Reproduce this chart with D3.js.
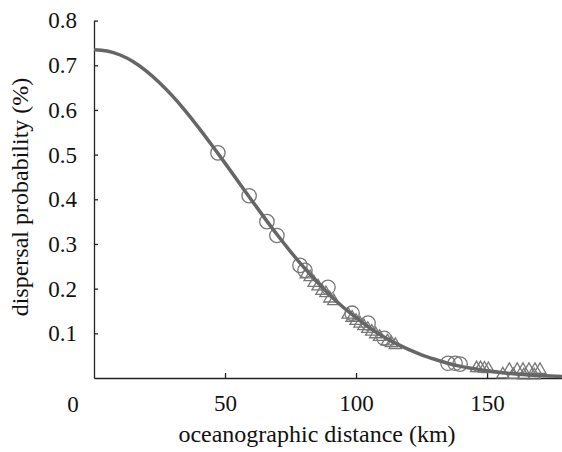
<!DOCTYPE html>
<html>
<head>
<meta charset="utf-8">
<script src="https://cdn.jsdelivr.net/npm/d3@7"></script>
<style>
  body { margin: 0; background: #fff; }
  text { font-family: "Liberation Serif", "Times New Roman", "DejaVu Serif", serif; }
</style>
</head>
<body>
<script>
var width = 562;
var height = 452;

// fitted curve
var curveX = [0, 5, 10, 15, 20, 25, 30, 35, 40, 45, 50, 55, 60, 65, 70, 75, 80, 85, 90, 95, 100,
              105, 110, 115, 120, 125, 130, 135, 140, 145, 150, 155, 160, 165, 170, 178.6];
var curveY = [0.735, 0.732, 0.723, 0.708, 0.687, 0.661, 0.631, 0.597, 0.560, 0.521, 0.481, 0.440,
              0.399, 0.359, 0.320, 0.283, 0.248, 0.216, 0.186, 0.159, 0.135, 0.113, 0.094, 0.078,
              0.064, 0.052, 0.042, 0.033, 0.026, 0.021, 0.016, 0.0125, 0.0096, 0.0073, 0.0055, 0.0034];

// circles
var circleX = [47.3, 59.2, 66.0, 69.8, 78.6, 80.5, 89.3, 98.5, 104.6, 110.7, 135.1, 137.8, 139.7];
var circleY = [0.504, 0.408, 0.350, 0.319, 0.252, 0.241, 0.203, 0.145, 0.123, 0.089, 0.033, 0.033, 0.031];

// triangles
var triX = [81, 82.5, 84, 85.5, 87, 88.5, 90, 91.5, 97, 98.5, 100, 101.5, 103, 104.5, 106, 107.5,
            109, 112, 113.5, 115, 146, 147.5, 149, 150.5, 158.5, 161.5, 163.7, 166, 168.3, 170.2,
            156, 160, 164, 168];
var triY = [0.232, 0.226, 0.213, 0.205, 0.195, 0.190, 0.178, 0.172, 0.142, 0.135, 0.128, 0.122,
            0.116, 0.110, 0.104, 0.098, 0.092, 0.082, 0.078, 0.074, 0.022, 0.022, 0.021, 0.020,
            0.018, 0.018, 0.018, 0.018, 0.018, 0.018, 0.008, 0.007, 0.006, 0.006];

var yTicks = [0.1, 0.2, 0.3, 0.4, 0.5, 0.6, 0.7, 0.8];
var xTicks = [50, 100, 150];

var svg = d3.select("body").append("svg")
    .attr("width", width)
    .attr("height", height);

var x = d3.scaleLinear().domain([0, 178.6]).range([94, 562]);
var y = d3.scaleLinear().domain([0, 0.8]).range([378, 20.6]);

var tickFs = 23;
var titleFs = 24;
var serif = "Liberation Serif, Times New Roman, DejaVu Serif, serif";

// y axis
svg.append("g")
    .attr("transform", "translate(" + x(0) + ",0)")
    .call(d3.axisLeft(y).tickValues(yTicks).tickFormat(d3.format(".1f"))
        .tickSizeInner(-4).tickSizeOuter(0).tickPadding(17))
    .call(function (g) {
        g.attr("font-family", serif);
        g.selectAll("text").attr("font-size", tickFs).attr("fill", "#111");
        g.selectAll("line, path").attr("stroke", "#222").attr("stroke-width", 1.3);
    });

// x axis
svg.append("g")
    .attr("transform", "translate(0," + y(0) + ")")
    .call(d3.axisBottom(x).tickValues(xTicks).tickFormat(d3.format("d"))
        .tickSizeInner(-5).tickSizeOuter(0).tickPadding(17))
    .call(function (g) {
        g.attr("font-family", serif);
        g.selectAll("text").attr("font-size", tickFs).attr("fill", "#111");
        g.selectAll("line, path").attr("stroke", "#222").attr("stroke-width", 1.3);
    });

// origin label
svg.append("text")
    .attr("x", 73).attr("y", 412)
    .attr("text-anchor", "middle")
    .attr("font-size", tickFs)
    .attr("fill", "#111")
    .text("0");

// markers
var markers = svg.append("g")
    .attr("fill", "none")
    .attr("stroke", "#777")
    .attr("stroke-width", 1.3);

markers.selectAll("circle")
    .data(circleX)
    .join("circle")
    .attr("cx", function (d) { return x(d); })
    .attr("cy", function (d, i) { return y(circleY[i]); })
    .attr("r", 7.2);

var tri = d3.symbol().type(d3.symbolTriangle).size(65);
markers.selectAll("path.tri")
    .data(triX)
    .join("path")
    .attr("class", "tri")
    .attr("d", tri)
    .attr("transform", function (d, i) { return "translate(" + x(d) + "," + y(triY[i]) + ")"; });

// fitted curve
var line = d3.line()
    .x(function (d) { return x(d); })
    .y(function (d, i) { return y(curveY[i]); })
    .curve(d3.curveNatural);

svg.append("path")
    .datum(curveX)
    .attr("d", line)
    .attr("fill", "none")
    .attr("stroke", "#666")
    .attr("stroke-width", 3.5);

// axis titles
svg.append("text")
    .attr("x", 317).attr("y", 442)
    .attr("text-anchor", "middle")
    .attr("font-size", titleFs)
    .attr("fill", "#111")
    .text("oceanographic distance (km)");

svg.append("text")
    .attr("transform", "translate(28,197) rotate(-90)")
    .attr("text-anchor", "middle")
    .attr("font-size", titleFs)
    .attr("fill", "#111")
    .text("dispersal probability (%)");
</script>
</body>
</html>
